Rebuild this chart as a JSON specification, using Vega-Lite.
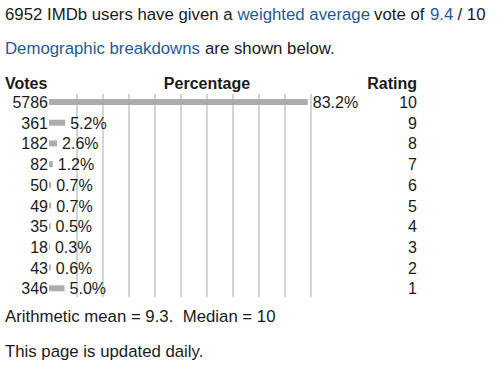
{
  "$schema": "https://vega.github.io/schema/vega-lite/v6.json",
  "width": 500,
  "height": 365,
  "padding": 0,
  "autosize": {"type": "none"},
  "background": "white",
  "config": {"view": {"stroke": null}, "text": {"font": "Liberation Sans", "fontSize": 16, "fill": "#1a1a1a", "baseline": "middle"}},
  "datasets": {
    "ratings": [
      {"rating": 10, "votes": 5786, "share": 0.832},
      {"rating": 9, "votes": 361, "share": 0.052},
      {"rating": 8, "votes": 182, "share": 0.026},
      {"rating": 7, "votes": 82, "share": 0.012},
      {"rating": 6, "votes": 50, "share": 0.007},
      {"rating": 5, "votes": 49, "share": 0.007},
      {"rating": 4, "votes": 35, "share": 0.005},
      {"rating": 3, "votes": 18, "share": 0.003},
      {"rating": 2, "votes": 43, "share": 0.006},
      {"rating": 1, "votes": 346, "share": 0.050}
    ],
    "grid": [
      {"g": 0.0900}, {"g": 0.1736}, {"g": 0.2572}, {"g": 0.3408}, {"g": 0.4244},
      {"g": 0.5080}, {"g": 0.5916}, {"g": 0.6752}, {"g": 0.7588}, {"g": 0.8424}
    ]
  },
  "layer": [
    {
      "data": {"name": "grid"},
      "mark": {"type": "rule", "stroke": "#c6c6c6", "strokeWidth": 1.5},
      "encoding": {
        "x": {"field": "g", "type": "quantitative", "scale": {"domain": [-0.15756, 1.45016], "nice": false, "zero": false}, "axis": null},
        "y": {"datum": 10.386, "type": "quantitative", "scale": {"domain": [-2.705, 14.928], "nice": false, "zero": false}, "axis": null},
        "y2": {"datum": 0.58}
      }
    },
    {
      "data": {"name": "ratings"},
      "mark": {"type": "rule", "stroke": "#adadad", "strokeWidth": 6, "strokeCap": "butt"},
      "encoding": {
        "x": {"field": "share", "type": "quantitative"},
        "x2": {"datum": 0},
        "y": {"field": "rating", "type": "quantitative"}
      }
    },
    {
      "data": {"name": "ratings"},
      "mark": {"type": "text", "align": "right", "dy": 1},
      "encoding": {
        "x": {"datum": -0.0032, "type": "quantitative"},
        "y": {"field": "rating", "type": "quantitative"},
        "text": {"field": "votes", "type": "quantitative", "format": "d"}
      }
    },
    {
      "data": {"name": "ratings"},
      "mark": {"type": "text", "align": "left", "dx": 5, "dy": 1},
      "encoding": {
        "x": {"field": "share", "type": "quantitative"},
        "y": {"field": "rating", "type": "quantitative"},
        "text": {"field": "share", "type": "quantitative", "format": ".1%"}
      }
    },
    {
      "data": {"name": "ratings"},
      "mark": {"type": "text", "align": "right", "dy": 1},
      "encoding": {
        "x": {"datum": 1.1833, "type": "quantitative"},
        "y": {"field": "rating", "type": "quantitative"},
        "text": {"field": "rating", "type": "quantitative"}
      }
    },
    {
      "data": {"values": [{"t": "Votes"}]},
      "mark": {"type": "text", "align": "left", "fontWeight": "bold"},
      "encoding": {"x": {"datum": -0.1415, "type": "quantitative"}, "y": {"datum": 10.87, "type": "quantitative"}, "text": {"field": "t", "type": "nominal"}}
    },
    {
      "data": {"values": [{"t": "Percentage"}]},
      "mark": {"type": "text", "align": "center", "fontWeight": "bold"},
      "encoding": {"x": {"datum": 0.508, "type": "quantitative"}, "y": {"datum": 10.87, "type": "quantitative"}, "text": {"field": "t", "type": "nominal"}}
    },
    {
      "data": {"values": [{"t": "Rating"}]},
      "mark": {"type": "text", "align": "right", "fontWeight": "bold"},
      "encoding": {"x": {"datum": 1.1833, "type": "quantitative"}, "y": {"datum": 10.87, "type": "quantitative"}, "text": {"field": "t", "type": "nominal"}}
    },
    {
      "data": {"values": [{"t": "6952 IMDb users have given a"}]},
      "mark": {"type": "text", "align": "left", "fontSize": 16.8},
      "encoding": {"x": {"datum": -0.1415, "type": "quantitative"}, "y": {"datum": 14.203, "type": "quantitative"}, "text": {"field": "t", "type": "nominal"}}
    },
    {
      "data": {"values": [{"t": "weighted average"}]},
      "mark": {"type": "text", "align": "left", "fontSize": 16.8, "fill": "#1f5a94"},
      "encoding": {"x": {"datum": 0.6061, "type": "quantitative"}, "y": {"datum": 14.203, "type": "quantitative"}, "text": {"field": "t", "type": "nominal"}}
    },
    {
      "data": {"values": [{"t": "vote of"}]},
      "mark": {"type": "text", "align": "left", "fontSize": 16.8},
      "encoding": {"x": {"datum": 1.045, "type": "quantitative"}, "y": {"datum": 14.203, "type": "quantitative"}, "text": {"field": "t", "type": "nominal"}}
    },
    {
      "data": {"values": [{"t": "9.4"}]},
      "mark": {"type": "text", "align": "left", "fontSize": 16.8, "fill": "#1f5a94"},
      "encoding": {"x": {"datum": 1.2251, "type": "quantitative"}, "y": {"datum": 14.203, "type": "quantitative"}, "text": {"field": "t", "type": "nominal"}}
    },
    {
      "data": {"values": [{"t": "/ 10"}]},
      "mark": {"type": "text", "align": "left", "fontSize": 16.8},
      "encoding": {"x": {"datum": 1.3135, "type": "quantitative"}, "y": {"datum": 14.203, "type": "quantitative"}, "text": {"field": "t", "type": "nominal"}}
    },
    {
      "data": {"values": [{"t": "Demographic breakdowns"}]},
      "mark": {"type": "text", "align": "left", "fontSize": 16.8, "fill": "#1f5a94"},
      "encoding": {"x": {"datum": -0.1415, "type": "quantitative"}, "y": {"datum": 12.56, "type": "quantitative"}, "text": {"field": "t", "type": "nominal"}}
    },
    {
      "data": {"values": [{"t": "are shown below."}]},
      "mark": {"type": "text", "align": "left", "fontSize": 16.8},
      "encoding": {"x": {"datum": 0.5016, "type": "quantitative"}, "y": {"datum": 12.56, "type": "quantitative"}, "text": {"field": "t", "type": "nominal"}}
    },
    {
      "data": {"values": [{"t": "Arithmetic mean = 9.3.\u00a0 Median = 10"}]},
      "mark": {"type": "text", "align": "left", "fontSize": 16.8},
      "encoding": {"x": {"datum": -0.1415, "type": "quantitative"}, "y": {"datum": -0.386, "type": "quantitative"}, "text": {"field": "t", "type": "nominal"}}
    },
    {
      "data": {"values": [{"t": "This page is updated daily."}]},
      "mark": {"type": "text", "align": "left", "fontSize": 16.8},
      "encoding": {"x": {"datum": -0.1415, "type": "quantitative"}, "y": {"datum": -2.077, "type": "quantitative"}, "text": {"field": "t", "type": "nominal"}}
    }
  ]
}
